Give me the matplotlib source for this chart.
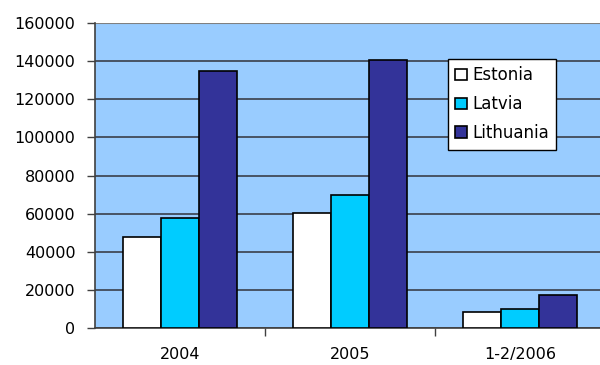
import matplotlib.pyplot as plt
import numpy as np

plt.rcParams['font.family'] = ['DejaVu Sans']

periods = ["2004", "2005", "1-2/2006"]
countries = ["Estonia", "Latvia", "Lithuania"]
estonia = [48000, 60500, 8500]
latvia = [57500, 70000, 10000]
lithuania = [135000, 140500, 17200]
colors = ["#FFFFFF", "#00CCFF", "#333399"]

fig = plt.figure(figsize=(6.0, 3.65), dpi=100)
ax = fig.add_axes([95 / 600, 37 / 365, 505 / 600, 305 / 365])
ax.set_facecolor("#99CCFF")

x = np.arange(len(periods))
w = 0.224
for i, (name, vals) in enumerate(zip(countries, [estonia, latvia, lithuania])):
    ax.bar(x + (i - 1) * w, vals, width=w, color=colors[i], edgecolor="black",
           linewidth=1.2, label=name, zorder=3)

ax.set_ylim(0, 160000)
ax.set_xlim(-0.5, 2.47)
ax.set_yticks(np.arange(0, 160001, 20000))
ax.yaxis.grid(True, color="#3a3f4a", linewidth=1.2, zorder=1)
ax.tick_params(axis="y", labelsize=11.5, length=6, width=1, color="#404040", pad=8)

# category labels sit between the boundary ticks
ax.set_xticks([0.5, 1.5])
ax.set_xticklabels([])
ax.set_xticks(x, minor=True)
ax.set_xticklabels(periods, minor=True)
ax.tick_params(axis="x", which="major", length=6, width=1, color="#404040")
ax.tick_params(axis="x", which="minor", length=0, labelsize=11.5, pad=14)

for side in ["top", "right"]:
    ax.spines[side].set_visible(False)
ax.spines["left"].set_color("#404040")
ax.spines["left"].set_linewidth(1.2)
ax.spines["bottom"].set_color("#404040")
ax.spines["bottom"].set_linewidth(1.2)
ax.axhline(160000, color="#808080", linewidth=1.5, zorder=2)

leg = ax.legend(loc="upper left", bbox_to_anchor=(0.699, 0.882), borderaxespad=0,
                fontsize=12, fancybox=False, framealpha=1, edgecolor="black",
                handlelength=0.7, handleheight=0.7, handletextpad=0.3,
                borderpad=0.45, labelspacing=0.65)
leg.get_frame().set_linewidth(1)

fig.savefig("out.png", dpi=100)
